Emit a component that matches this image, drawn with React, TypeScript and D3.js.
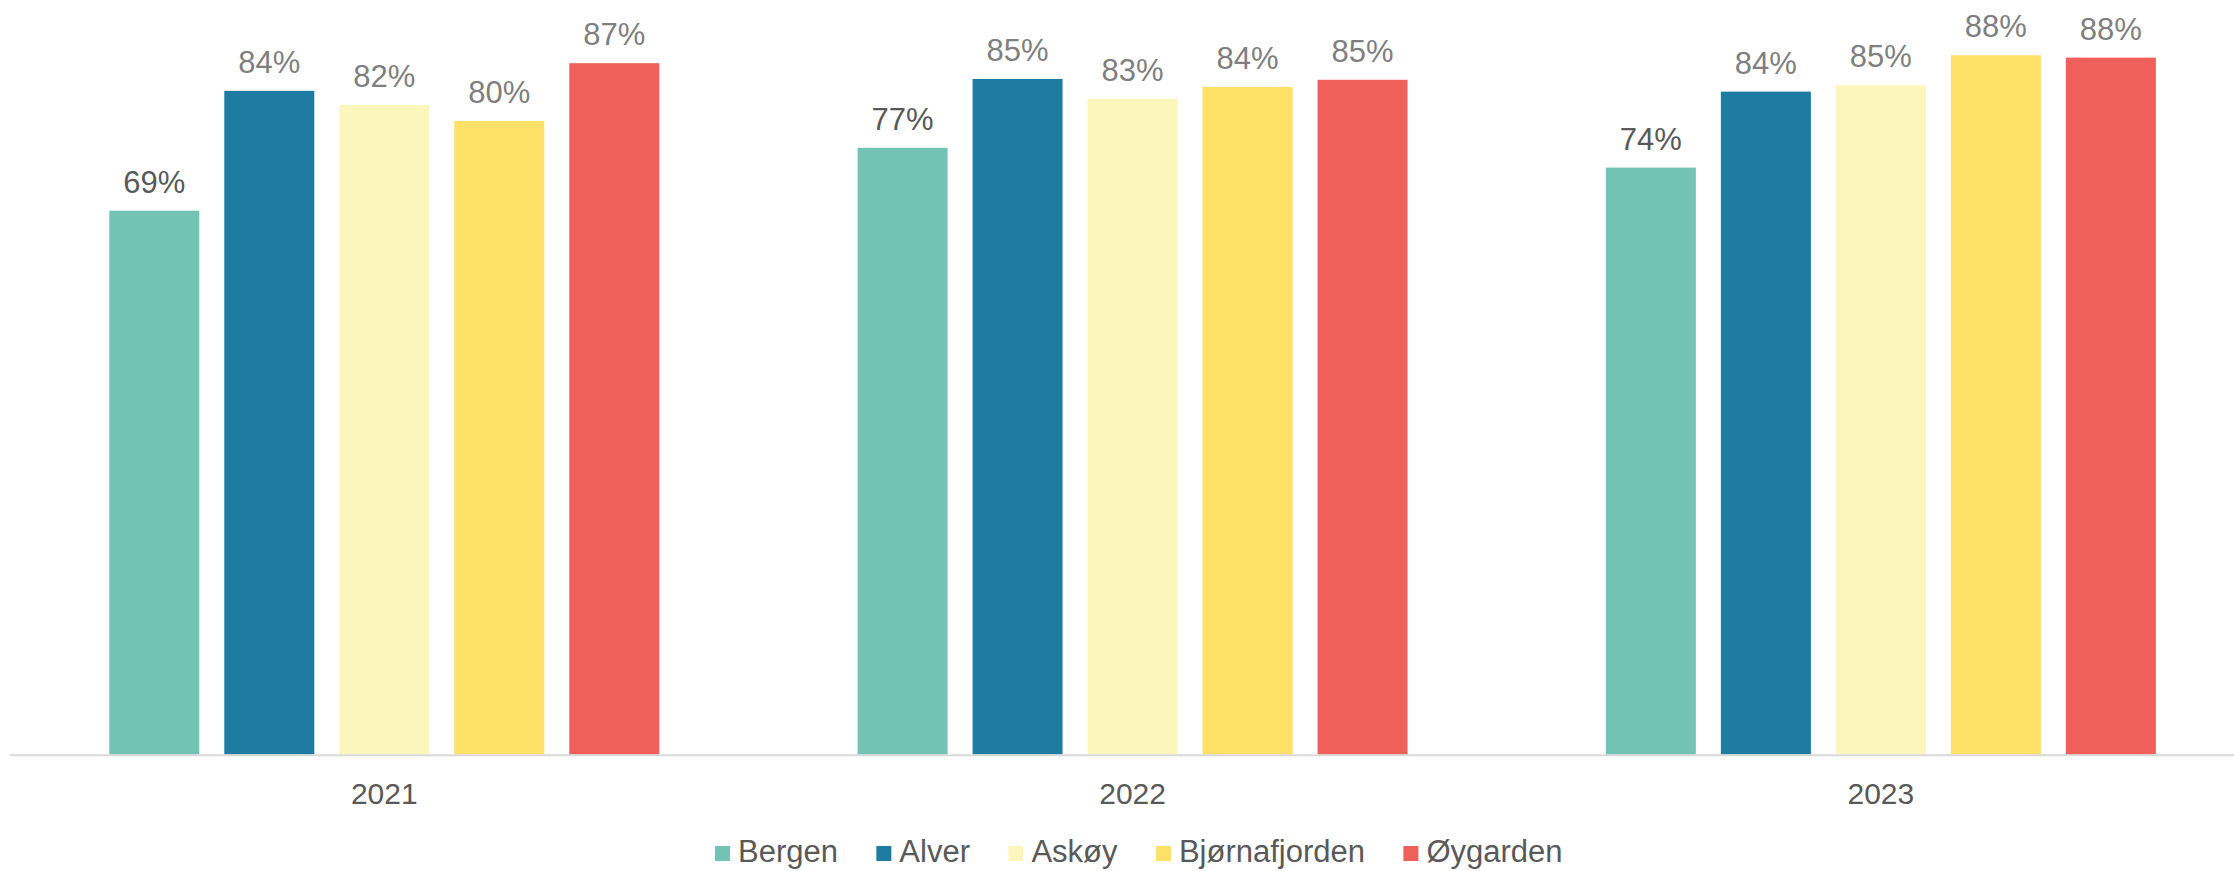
import React from "react";
import * as d3 from "d3";

const years = ["2021", "2022", "2023"];
const series = ["Bergen", "Alver", "Askøy", "Bjørnafjorden", "Øygarden"];
const colors = ["#72C3B4", "#1E7BA1", "#FBF7BC", "#FDE166", "#F0605A"];
const bergen = [68.75, 76.7, 74.2];
const alver = [83.9, 85.4, 83.8];
const askoy = [82.1, 82.9, 84.6];
const bjornafjorden = [80.1, 84.4, 88.4];
const oygarden = [87.4, 85.3, 88.1];
const seriesValues = [bergen, alver, askoy, bjornafjorden, oygarden];
const labelColors = ["#595959", "#7F7F7F", "#7F7F7F", "#7F7F7F", "#7F7F7F"];

const W = 2234;
const H = 871;
const FONT = "'Liberation Sans', Arial, sans-serif";

function measure(text: string, size: number) {
  const c = document.createElement("canvas").getContext("2d");
  if (!c) return text.length * size * 0.55;
  c.font = `${size}px 'Liberation Sans', Arial, sans-serif`;
  return c.measureText(text).width;
}

export default function App() {
  const baseY = 754.5;
  const x0 = d3.scaleBand<string>().domain(years).range([10.15, 2255]).padding(0);
  const step = x0.bandwidth();
  const groupW = 575;
  const x1 = d3
    .scaleBand<string>()
    .domain(series)
    .range([(step - groupW) / 2, (step + groupW) / 2])
    .paddingInner(25 / 115)
    .paddingOuter(12.5 / 115);
  const y = d3.scaleLinear().domain([0, 100]).range([baseY, baseY - 791]);

  // legend layout
  const legendSize = 31;
  const sq = 15;
  const textGap = 23;
  const itemGap = 38.4;
  const widths = series.map((s) => measure(s, legendSize));
  let cursor = 715;
  const legendItems = series.map((s, i) => {
    const item = { name: s, x: cursor, color: colors[i] };
    cursor += sq + (textGap - sq) + widths[i] + itemGap;
    return item;
  });

  return (
    <svg
      width={W}
      height={H}
      style={{ position: "absolute", left: 0, top: 0, background: "#fff" }}
      fontFamily={FONT}
    >
      <rect x={0} y={0} width={W} height={H} fill="#fff" />
      {years.map((yr, yi) => (
        <g key={yr} transform={`translate(${x0(yr)},0)`}>
          {series.map((s, si) => {
            const v = seriesValues[si][yi];
            const bx = x1(s) as number;
            const bw = x1.bandwidth();
            return (
              <g key={s}>
                <rect x={bx} y={y(v)} width={bw} height={baseY - y(v)} fill={colors[si]} />
                <text
                  x={bx + bw / 2}
                  y={y(v) - 18}
                  textAnchor="middle"
                  fontSize={31}
                  fill={labelColors[si]}
                >
                  {`${Math.round(v)}%`}
                </text>
              </g>
            );
          })}
          <text x={step / 2} y={804} textAnchor="middle" fontSize={30} fill="#595959">
            {yr}
          </text>
        </g>
      ))}
      <line x1={10} x2={W} y1={baseY + 0.8} y2={baseY + 0.8} stroke="#D9D9D9" strokeWidth={2} />
      {legendItems.map((it) => (
        <g key={it.name}>
          <rect x={it.x} y={846} width={sq} height={sq} fill={it.color} />
          <text x={it.x + textGap} y={862} fontSize={legendSize} fill="#595959">
            {it.name}
          </text>
        </g>
      ))}
    </svg>
  );
}
